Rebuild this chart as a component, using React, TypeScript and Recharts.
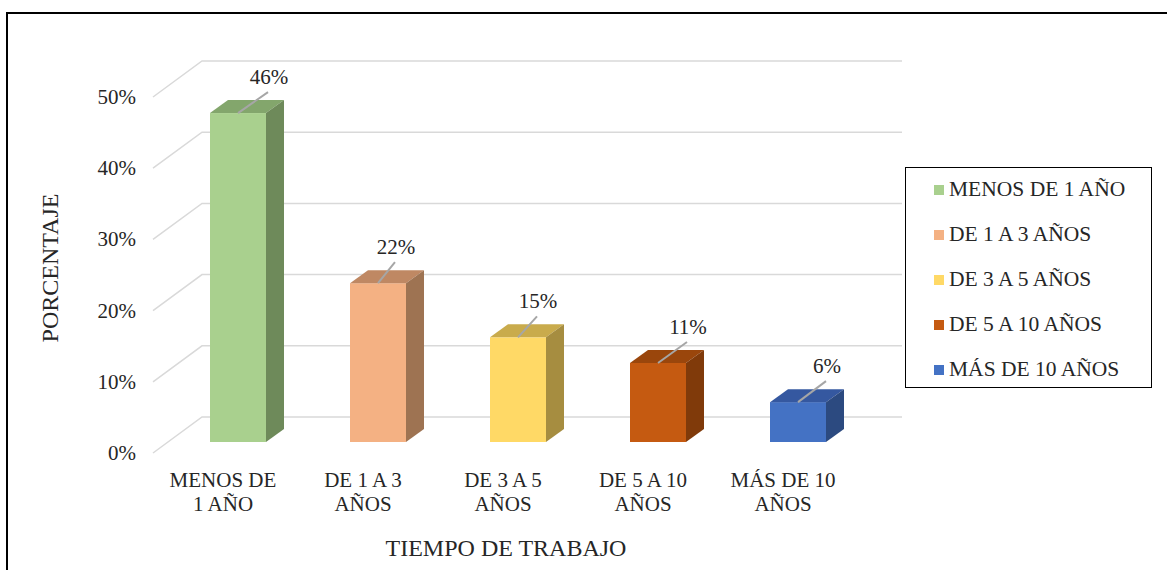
import React from "react";
import { BarChart, Bar, XAxis, YAxis, CartesianGrid, Legend, LabelList, Cell } from "recharts";

const CATEGORIES = ["MENOS DE 1 AÑO", "DE 1 A 3 AÑOS", "DE 3 A 5 AÑOS", "DE 5 A 10 AÑOS", "MÁS DE 10 AÑOS"];
const TICK_LINES = [
  ["MENOS DE", "1 AÑO"],
  ["DE 1 A 3", "AÑOS"],
  ["DE 3 A 5", "AÑOS"],
  ["DE 5 A 10", "AÑOS"],
  ["MÁS DE 10", "AÑOS"],
];
const PERCENTAGES = [0.462, 0.223, 0.147, 0.111, 0.056];
const Y_TICKS = [0, 0.1, 0.2, 0.3, 0.4, 0.5];

const FRONT = ["#A9D08E", "#F4B183", "#FFD966", "#C55A11", "#4472C4"];
const TOP = ["#83A66C", "#BF8863", "#C9AB4C", "#9A460C", "#3558A0"];
const SIDE = ["#6E8A5A", "#9E7352", "#A68D40", "#803A0A", "#2C4A80"];
// leader line horizontal reach, per bar
const LEADER_DX = [30, 17, 19, 29, 28];

// oblique projection of the 3D plot
const WALL_DX = 49;
const WALL_DY = -36;
const BAR_OFF_X = 15;
const BAR_OFF_Y = -11;
const DEPTH_X = 18;
const DEPTH_Y = -13;

const FONT = "'Liberation Serif', 'Times New Roman', serif";
const TEXT = "#262626";

const data = CATEGORIES.map((name, i) => ({ name, value: PERCENTAGES[i] }));

function Bar3D(props: any) {
  const { x, y, width, height, index } = props;
  const fx = x + BAR_OFF_X;
  const fy = y + BAR_OFF_Y;
  const r = fx + width;
  return (
    <g>
      <rect x={fx} y={fy} width={width} height={height} fill={FRONT[index]} />
      <polygon
        points={`${fx},${fy} ${fx + DEPTH_X},${fy + DEPTH_Y} ${r + DEPTH_X},${fy + DEPTH_Y} ${r},${fy}`}
        fill={TOP[index]}
      />
      <polygon
        points={`${r},${fy} ${r + DEPTH_X},${fy + DEPTH_Y} ${r + DEPTH_X},${fy + height + DEPTH_Y} ${r},${fy + height}`}
        fill={SIDE[index]}
      />
    </g>
  );
}

function ValueLabel(props: any) {
  const { x, y, width, value, index } = props;
  const sx = x + BAR_OFF_X + width / 2;
  const sy = y + BAR_OFF_Y;
  const ex = sx + LEADER_DX[index];
  const ey = sy - 21;
  return (
    <g>
      <line x1={sx} y1={sy} x2={ex} y2={ey} stroke="#A6A6A6" strokeWidth={2} />
      <text
        x={ex + 1}
        y={ey - 15}
        textAnchor="middle"
        dominantBaseline="central"
        fontFamily={FONT}
        fontSize={21}
        fill={TEXT}
      >
        {Math.round(value * 100)}%
      </text>
    </g>
  );
}

function GridLine(props: any) {
  const { x1, x2, y1 } = props;
  return (
    <path
      key={props.key}
      d={`M${x1},${y1} L${x1 + WALL_DX},${y1 + WALL_DY} L${x2 + WALL_DX},${y1 + WALL_DY}`}
      stroke="#D9D9D9"
      strokeWidth={1.5}
      fill="none"
    />
  );
}

function YTick(props: any) {
  const { y, payload } = props;
  return (
    <text x={136} y={y} textAnchor="end" dominantBaseline="central" fontFamily={FONT} fontSize={21} fill={TEXT}>
      {Math.round(payload.value * 100)}%
    </text>
  );
}

function XTick(props: any) {
  const { x, y, index } = props;
  const lines = TICK_LINES[index] || [];
  return (
    <g>
      {lines.map((t, i) => (
        <text
          key={i}
          x={x}
          y={y + 27 + i * 24}
          textAnchor="middle"
          dominantBaseline="central"
          fontFamily={FONT}
          fontSize={21}
          fill={TEXT}
        >
          {t}
        </text>
      ))}
    </g>
  );
}

function LegendBox() {
  return (
    <div
      style={{
        width: 247,
        height: 221,
        border: "1.5px solid #000",
        boxSizing: "border-box",
        fontFamily: FONT,
        fontSize: 21.5,
        color: TEXT,
        background: "#fff",
      }}
    >
      {CATEGORIES.map((c, i) => (
        <div
          key={c}
          style={{ display: "flex", alignItems: "center", height: 45, paddingLeft: 28, marginTop: i === 0 ? -1 : 0 }}
        >
          <span style={{ width: 10, height: 10, background: FRONT[i], marginRight: 5, flexShrink: 0 }} />
          <span style={{ whiteSpace: "nowrap" }}>{c}</span>
        </div>
      ))}
    </div>
  );
}

export default function App() {
  return (
    <div style={{ position: "fixed", left: 0, top: 0, width: 1167, height: 570, overflow: "hidden", background: "#fff" }}>
      <div
        style={{
          position: "absolute",
          left: 6,
          top: 12,
          width: 1200,
          height: 600,
          border: "2px solid #000",
          boxSizing: "border-box",
        }}
      />
      <div style={{ position: "absolute", left: 0, top: 0 }}>
        <BarChart
          width={1167}
          height={570}
          data={data}
          margin={{ top: 97, right: 314, bottom: 0, left: 0 }}
          barCategoryGap="30%"
        >
          <CartesianGrid vertical={false} horizontal={(p: any) => <GridLine {...p} />} />
          <XAxis
            dataKey="name"
            height={117}
            axisLine={false}
            tickLine={false}
            tickSize={0}
            tickMargin={0}
            interval={0}
            tick={(p: any) => <XTick {...p} />}
            label={{
              content: ({ viewBox }: any) => (
                <text
                  x={viewBox.x + viewBox.width / 2 + 3}
                  y={viewBox.y + 95}
                  textAnchor="middle"
                  dominantBaseline="central"
                  fontFamily={FONT}
                  fontSize={24}
                  fill={TEXT}
                >
                  TIEMPO DE TRABAJO
                </text>
              ),
            }}
          />
          <YAxis
            width={153}
            domain={[0, 0.5]}
            ticks={Y_TICKS}
            axisLine={false}
            tickLine={false}
            tick={(p: any) => <YTick {...p} />}
            label={{
              content: ({ viewBox }: any) => {
                const cy = viewBox.y + viewBox.height / 2 - 7;
                return (
                  <text
                    x={50}
                    y={cy}
                    transform={`rotate(-90, 50, ${cy})`}
                    textAnchor="middle"
                    dominantBaseline="central"
                    fontFamily={FONT}
                    fontSize={24}
                    fill={TEXT}
                  >
                    PORCENTAJE
                  </text>
                );
              },
            }}
          />
          <Legend
            layout="vertical"
            align="center"
            verticalAlign="middle"
            content={() => <LegendBox />}
            wrapperStyle={{ left: 905, top: 167, width: 247, height: 221 }}
          />
          <Bar dataKey="value" shape={(p: any) => <Bar3D {...p} />} isAnimationActive={false}>
            {data.map((d, i) => (
              <Cell key={d.name} fill={FRONT[i]} />
            ))}
            <LabelList dataKey="value" content={(p: any) => <ValueLabel {...p} />} />
          </Bar>
        </BarChart>
      </div>
    </div>
  );
}
